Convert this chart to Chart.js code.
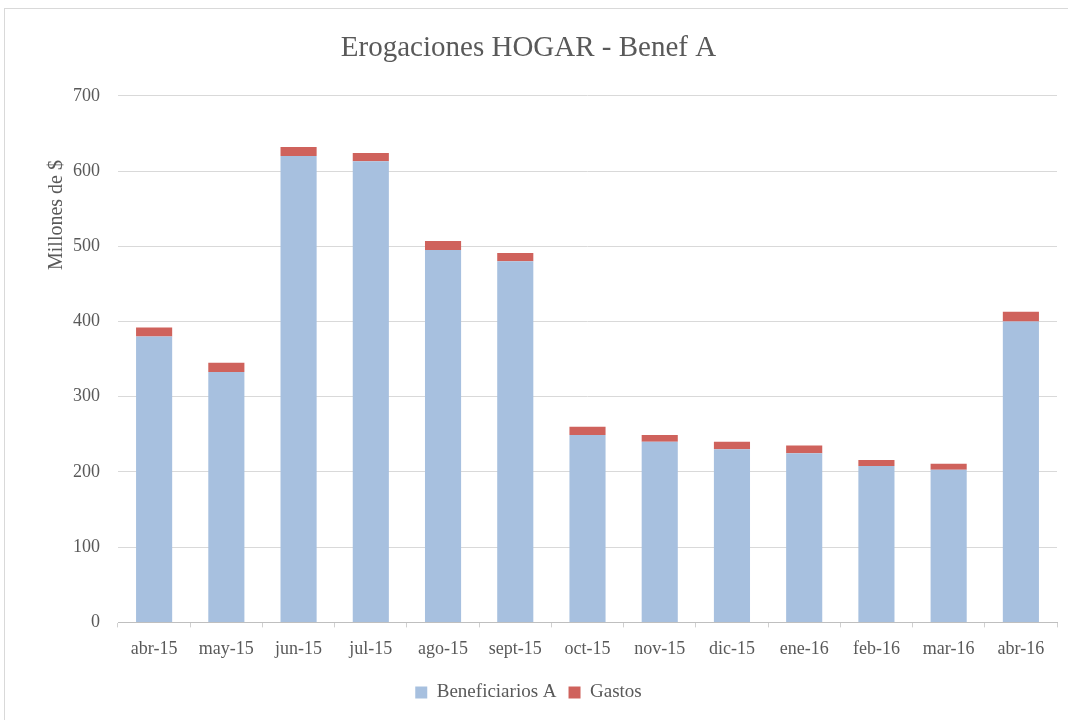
<!DOCTYPE html>
<html>
<head>
<meta charset="utf-8">
<script src="https://cdn.jsdelivr.net/npm/chart.js@4"></script>
<style>
  html, body { margin: 0; padding: 0; background: #ffffff; }
  #wrap { position: relative; width: 1068px; height: 720px; }
  #frame { position: absolute; left: 4px; top: 8px; right: 0; bottom: 0; border: 1px solid #d9d9d9; border-right: none; border-bottom: none; pointer-events: none; }
</style>
</head>
<body>
<div id="wrap">
  <canvas id="chart" width="1068" height="720"></canvas>
  <div id="frame"></div>
</div>
<script>
// data
const months = ['abr-15', 'may-15', 'jun-15', 'jul-15', 'ago-15', 'sept-15', 'oct-15',
  'nov-15', 'dic-15', 'ene-16', 'feb-16', 'mar-16', 'abr-16'];
const beneficiarios = [380, 333, 620, 613, 495, 480, 249, 240, 230, 225, 208, 203, 400];
const gastos = [12, 12, 12, 11, 12, 11, 11, 9, 10, 10, 8, 8, 13];
const yTicks = [0, 100, 200, 300, 400, 500, 600, 700];

const FONT = '"Liberation Serif", serif';
const GREY = '#595959';

// Excel puts the axis title high up, so draw it by hand
const yTitle = {
  id: 'yTitle',
  afterDraw(chart) {
    const ctx = chart.ctx;
    ctx.save();
    ctx.translate(57, 215);
    ctx.rotate(-Math.PI / 2);
    ctx.font = '20px ' + FONT;
    ctx.fillStyle = GREY;
    ctx.textAlign = 'center';
    ctx.textBaseline = 'middle';
    ctx.fillText('Millones de $', 0, 0);
    ctx.restore();
  }
};

new Chart(document.getElementById('chart'), {
  type: 'bar',
  data: {
    labels: months,
    datasets: [
      { label: 'Beneficiarios A', data: beneficiarios, backgroundColor: '#a7c0df' },
      { label: 'Gastos', data: gastos, backgroundColor: '#cf625c' }
    ]
  },
  options: {
    responsive: false,
    animation: false,
    layout: { padding: { left: 0, right: 11, top: 0, bottom: 8 } },
    datasets: { bar: { categoryPercentage: 1, barPercentage: 0.5 } },
    plugins: {
      title: {
        display: true,
        text: 'Erogaciones HOGAR - Benef A',
        color: GREY,
        font: { family: FONT, size: 29, weight: 'normal' },
        padding: { top: 31, bottom: 30 }
      },
      legend: {
        position: 'bottom',
        labels: {
          color: GREY,
          font: { family: FONT, size: 19 },
          boxWidth: 12,
          boxHeight: 12,
          padding: 12
        }
      },
      tooltip: { enabled: false }
    },
    scales: {
      x: {
        stacked: true,
        // small tick marks between the months, as in the Excel original
        grid: { display: true, drawOnChartArea: false, drawTicks: true, tickLength: 5, color: '#d0d0d0' },
        border: { color: '#bfbfbf' },
        ticks: { color: GREY, font: { family: FONT, size: 18 }, padding: 11, maxRotation: 0 }
      },
      y: {
        stacked: true,
        min: 0,
        max: 700,
        afterBuildTicks(scale) { scale.ticks = yTicks.map(v => ({ value: v })); },
        afterFit(scale) { scale.width = 118; },
        grid: { color: '#d9d9d9', drawTicks: false },
        border: { display: false },
        ticks: { color: GREY, font: { family: FONT, size: 18 }, padding: 18 }
      }
    }
  },
  plugins: [yTitle]
});
</script>
</body>
</html>
